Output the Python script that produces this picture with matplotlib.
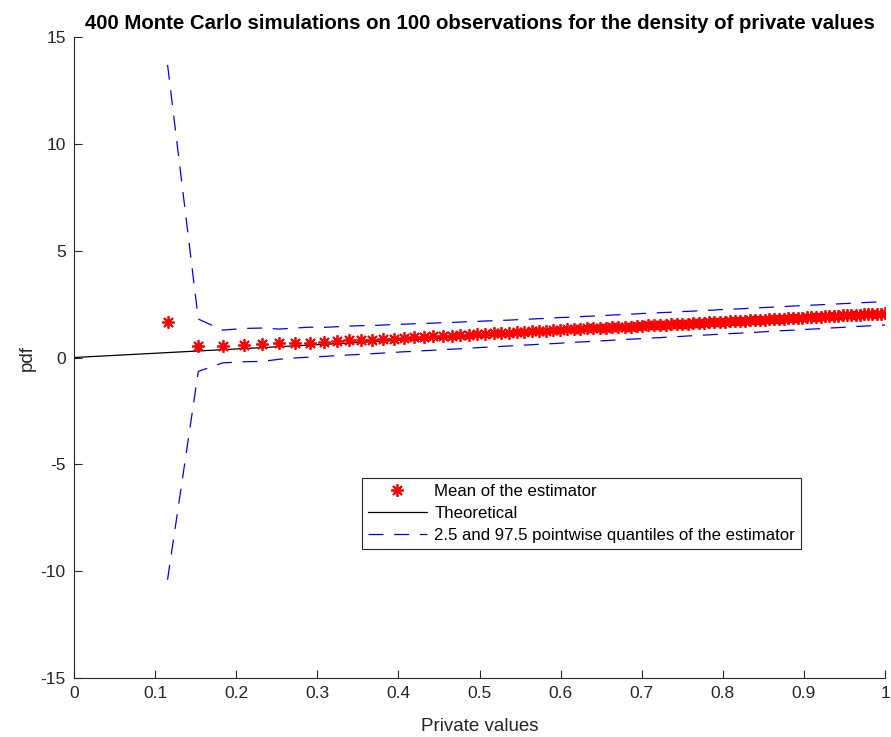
import matplotlib
matplotlib.use('Agg')
import matplotlib.pyplot as plt

plt.rcParams['font.family'] = ['Liberation Sans', 'DejaVu Sans']
plt.rcParams['axes.unicode_minus'] = False

# points where the density is evaluated
private_values = [
    0.1153, 0.1532, 0.1834, 0.2093, 0.2323, 0.2533, 0.2726, 0.2907, 0.3077, 0.3238,
    0.3391, 0.3538, 0.3679, 0.3815, 0.3946, 0.4072, 0.4195, 0.4315, 0.4431, 0.4545,
    0.4655, 0.4763, 0.4869, 0.4972, 0.5073, 0.5173, 0.5270, 0.5366, 0.5459, 0.5552,
    0.5643, 0.5732, 0.5820, 0.5907, 0.5992, 0.6077, 0.6160, 0.6242, 0.6323, 0.6403,
    0.6482, 0.6560, 0.6637, 0.6713, 0.6788, 0.6863, 0.6936, 0.7009, 0.7081, 0.7153,
    0.7224, 0.7294, 0.7363, 0.7432, 0.7500, 0.7567, 0.7634, 0.7701, 0.7766, 0.7832,
    0.7896, 0.7960, 0.8024, 0.8087, 0.8150, 0.8212, 0.8274, 0.8335, 0.8396, 0.8456,
    0.8516, 0.8575, 0.8634, 0.8693, 0.8751, 0.8809, 0.8867, 0.8924, 0.8981, 0.9037,
    0.9093, 0.9149, 0.9205, 0.9260, 0.9314, 0.9369, 0.9423, 0.9477, 0.9530, 0.9584,
    0.9636, 0.9689, 0.9741, 0.9793, 0.9845, 0.9897, 0.9948, 0.9999]

# mean of the estimator over the 400 simulations
mean_est = [
    1.65, 0.55, 0.53, 0.59, 0.63, 0.66, 0.68, 0.70, 0.74, 0.77,
    0.80, 0.81, 0.84, 0.86, 0.89, 0.91, 0.94, 0.96, 0.99, 1.01,
    1.03, 1.05, 1.07, 1.09, 1.11, 1.13, 1.15, 1.17, 1.19, 1.21,
    1.23, 1.25, 1.26, 1.28, 1.30, 1.32, 1.33, 1.35, 1.36, 1.38,
    1.38, 1.39, 1.41, 1.42, 1.44, 1.45, 1.47, 1.48, 1.50, 1.51,
    1.52, 1.54, 1.55, 1.57, 1.58, 1.59, 1.61, 1.62, 1.63, 1.65,
    1.66, 1.67, 1.68, 1.70, 1.71, 1.72, 1.73, 1.75, 1.76, 1.77,
    1.77, 1.79, 1.80, 1.81, 1.82, 1.83, 1.84, 1.86, 1.87, 1.88,
    1.89, 1.90, 1.91, 1.92, 1.93, 1.94, 1.95, 1.97, 1.98, 1.99,
    2.00, 2.01, 2.02, 2.03, 2.04, 2.05, 2.06, 2.07]

# 97.5 pointwise quantile
q_upper = [
    13.7, 1.80, 1.28, 1.36, 1.38, 1.33, 1.38, 1.42, 1.41, 1.44,
    1.47, 1.49, 1.50, 1.52, 1.55, 1.56, 1.58, 1.59, 1.61, 1.63,
    1.64, 1.66, 1.68, 1.69, 1.71, 1.72, 1.74, 1.75, 1.77, 1.78,
    1.80, 1.82, 1.83, 1.85, 1.87, 1.88, 1.90, 1.91, 1.93, 1.94,
    1.96, 1.97, 1.99, 2.00, 2.02, 2.03, 2.04, 2.06, 2.07, 2.08,
    2.10, 2.11, 2.12, 2.14, 2.15, 2.16, 2.17, 2.19, 2.20, 2.21,
    2.22, 2.24, 2.25, 2.26, 2.27, 2.28, 2.29, 2.31, 2.32, 2.33,
    2.34, 2.35, 2.36, 2.37, 2.38, 2.40, 2.41, 2.42, 2.43, 2.44,
    2.45, 2.46, 2.47, 2.48, 2.49, 2.50, 2.51, 2.52, 2.53, 2.54,
    2.55, 2.56, 2.57, 2.58, 2.59, 2.60, 2.61, 2.62]

# 2.5 pointwise quantile
q_lower = [
    -10.4, -0.65, -0.25, -0.20, -0.18, -0.08, -0.02, 0.02, 0.05, 0.09,
    0.12, 0.15, 0.18, 0.21, 0.24, 0.27, 0.29, 0.32, 0.34, 0.37,
    0.39, 0.41, 0.43, 0.46, 0.48, 0.50, 0.52, 0.54, 0.56, 0.58,
    0.60, 0.62, 0.64, 0.65, 0.67, 0.69, 0.71, 0.73, 0.74, 0.76,
    0.78, 0.79, 0.81, 0.83, 0.84, 0.86, 0.87, 0.89, 0.90, 0.92,
    0.93, 0.95, 0.96, 0.98, 0.99, 1.01, 1.02, 1.03, 1.05, 1.06,
    1.08, 1.09, 1.10, 1.12, 1.13, 1.14, 1.16, 1.17, 1.18, 1.19,
    1.21, 1.22, 1.23, 1.25, 1.26, 1.27, 1.28, 1.29, 1.31, 1.32,
    1.33, 1.34, 1.35, 1.37, 1.38, 1.39, 1.40, 1.41, 1.42, 1.43,
    1.45, 1.46, 1.47, 1.48, 1.49, 1.50, 1.51, 1.52]

# theoretical pdf f(v) = 2v on [0, 1]
theo_x = [0.0, 1.0]
theo_y = [0.0, 2.0]

xticks = [0, 0.1, 0.2, 0.3, 0.4, 0.5, 0.6, 0.7, 0.8, 0.9, 1]
xtick_labels = ['0', '0.1', '0.2', '0.3', '0.4', '0.5', '0.6', '0.7', '0.8', '0.9', '1']
yticks = [-15, -10, -5, 0, 5, 10, 15]

axcol = '#262626'

fig = plt.figure(figsize=(8.91, 7.37), dpi=100)
ax = fig.add_axes([0.0831, 0.080, 0.9102, 0.8698])

dash = (0, (12, 8.5))
ax.plot(private_values, mean_est, linestyle='none', marker=(8, 2, 0), color='red',
        markersize=9, markeredgewidth=1.3, label='Mean of the estimator', zorder=3)
ax.plot(theo_x, theo_y, color='black', lw=0.9, label='Theoretical', zorder=2)
ax.plot(private_values, q_upper, color='blue', lw=0.9, linestyle=dash,
        label='2.5 and 97.5 pointwise quantiles of the estimator')
ax.plot(private_values, q_lower, color='blue', lw=0.9, linestyle=dash)

ax.set_xlim(0, 1)
ax.set_ylim(-15, 15)
ax.set_xticks(xticks)
ax.set_xticklabels(xtick_labels)
ax.set_yticks(yticks)
ax.tick_params(direction='in', length=6, width=0.8, colors=axcol, labelsize=12.5, pad=6)
for s in ['top', 'right']:
    ax.spines[s].set_visible(False)
for s in ['left', 'bottom']:
    ax.spines[s].set_color(axcol)
    ax.spines[s].set_linewidth(0.8)

ax.set_xlabel('Private values', fontsize=13.5, color=axcol, labelpad=12)
ax.set_ylabel('pdf', fontsize=13.5, color=axcol, labelpad=3)
ax.set_title('400 Monte Carlo simulations on 100 observations for the density of private values',
             fontsize=14.7, fontweight='bold', pad=6)

leg = ax.legend(loc='lower left', bbox_to_anchor=(0.355, 0.201), fontsize=12.1,
                frameon=True, fancybox=False, edgecolor=axcol, framealpha=1,
                handlelength=3.5, handletextpad=0.45, borderpad=0.35, labelspacing=0.42,
                borderaxespad=0)
leg.get_frame().set_linewidth(0.8)

fig.savefig('out.png', dpi=100)
